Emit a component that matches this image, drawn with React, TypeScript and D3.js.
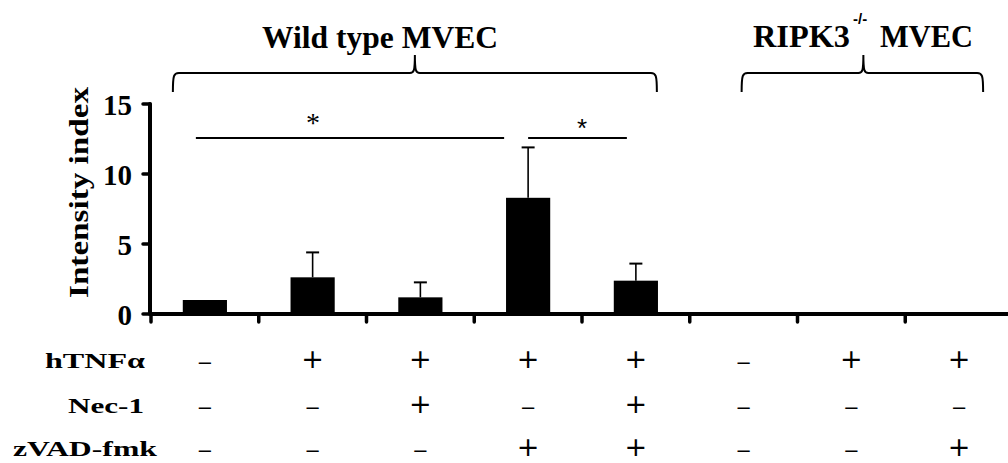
import React from "react";
import * as d3 from "d3";

const categories = ["WT-1", "WT-2", "WT-3", "WT-4", "WT-5", "KO-1", "KO-2", "KO-3"];
const means = [1.0, 2.62, 1.19, 8.3, 2.38, 0, 0, 0];
const errors = [0, 1.78, 1.07, 3.6, 1.22, 0, 0, 0];
const yTicks = [0, 5, 10, 15];
const rowLabels = ["hTNFα", "Nec-1", "zVAD-fmk"];
const hTNF = [false, true, true, true, true, false, true, true];
const nec1 = [false, false, true, false, true, false, false, false];
const zvad = [false, false, false, true, true, false, false, true];
const treatmentRows = [hTNF, nec1, zvad];
const groupLabels = ["Wild type MVEC", "RIPK3", "MVEC"];

const W = 1008;
const H = 463;
const serif = "'Liberation Serif', 'Times New Roman', serif";
const sans = "'Liberation Sans', Arial, sans-serif";
const dejavu = "'DejaVu Sans', sans-serif";

function bracePath(x0: number, xm: number, x1: number, yTop: number, yLine: number, yEnd: number) {
  return `M${x0},${yEnd} C${x0},${yLine + 2} ${x0 + 1},${yLine} ${x0 + 6},${yLine} L${xm - 5},${yLine} C${xm - 1},${yLine} ${xm},${yLine - 2} ${xm},${yTop} C${xm},${yLine - 2} ${xm + 1},${yLine} ${xm + 5},${yLine} L${x1 - 6},${yLine} C${x1 - 1},${yLine} ${x1},${yLine + 2} ${x1},${yEnd}`;
}

export default function App() {
  const x = d3.scaleBand<string>().domain(categories).range([151, 1013]).paddingInner(0.59).paddingOuter(0.295);
  const y = d3.scaleLinear().domain([0, 15]).range([314, 104]);
  const step = x.step();
  const bw = x.bandwidth();
  const cx = (i: number) => (x(categories[i]) as number) + bw / 2;
  const axisX = 150;
  const rowY = [360, 405, 448];
  const labelLen = [100, 76, 144];
  const labelX = [45, 68, 13];

  return (
    <div style={{ position: "fixed", left: 0, top: 0 }}>
      <svg width={W} height={H} style={{ display: "block", background: "#fff" }}>
        {/* group titles */}
        <text x={380} y={48} fontFamily={serif} fontWeight="bold" fontSize={32} textAnchor="middle" textLength={236} lengthAdjust="spacingAndGlyphs">
          {groupLabels[0]}
        </text>
        <text x={753} y={47} fontFamily={serif} fontWeight="bold" fontSize={31} textLength={97} lengthAdjust="spacingAndGlyphs">
          {groupLabels[1]}
        </text>
        <text x={853} y={24} fontFamily={sans} fontWeight="bold" fontSize={15}>
          -/-
        </text>
        <text x={880} y={47} fontFamily={serif} fontWeight="bold" fontSize={31} textLength={93} lengthAdjust="spacingAndGlyphs">
          {groupLabels[2]}
        </text>
        {/* braces */}
        <path d={bracePath(cx(0) - 32, (cx(0) - 32 + cx(4) + 21) / 2, cx(4) + 21, 55, 73, 92)} fill="none" stroke="#000" strokeWidth={2} />
        <path d={bracePath(cx(5) - 2, cx(6) + 12, cx(7) + 24, 55, 73, 92)} fill="none" stroke="#000" strokeWidth={2} />

        {/* bars */}
        {categories.map((c, i) => (
          <rect key={c} x={x(c)} y={y(means[i])} width={bw} height={y(0) - y(means[i])} fill="#000" />
        ))}
        {/* error bars */}
        {categories.map((c, i) =>
          errors[i] > 0 ? (
            <g key={"e" + c}>
              <line x1={cx(i)} x2={cx(i)} y1={y(means[i])} y2={y(means[i] + errors[i])} stroke="#000" strokeWidth={1.6} />
              <line x1={cx(i) - 6.5} x2={cx(i) + 6.5} y1={y(means[i] + errors[i])} y2={y(means[i] + errors[i])} stroke="#000" strokeWidth={2} />
            </g>
          ) : null
        )}

        {/* significance */}
        <line x1={cx(0) - 9} x2={cx(3) - 24} y1={138} y2={138} stroke="#000" strokeWidth={2} />
        <text x={313} y={132} fontFamily={serif} fontSize={28} textAnchor="middle">*</text>
        <line x1={cx(3)} x2={cx(4) - 9} y1={138} y2={138} stroke="#000" strokeWidth={2} />
        <text x={582} y={137} fontFamily={sans} fontSize={26} textAnchor="middle">*</text>

        {/* y axis */}
        <line x1={axisX} x2={axisX} y1={y(15)} y2={y(0)} stroke="#000" strokeWidth={4} strokeLinecap="round" />
        {yTicks.map((t) => (
          <g key={t}>
            <line x1={axisX - 7} x2={axisX} y1={y(t)} y2={y(t)} stroke="#000" strokeWidth={3.5} strokeLinecap="round" />
            <text x={132} y={y(t) + 11} fontFamily={serif} fontWeight="bold" fontSize={29} textAnchor="end">
              {t}
            </text>
          </g>
        ))}
        <text
          transform={`translate(88, ${(87 + 298) / 2}) rotate(-90)`}
          fontFamily={serif}
          fontWeight="bold"
          fontSize={28}
          textAnchor="middle"
          textLength={211}
          lengthAdjust="spacingAndGlyphs"
        >
          Intensity index
        </text>

        {/* x axis */}
        <line x1={axisX} x2={W + 5} y1={y(0)} y2={y(0)} stroke="#000" strokeWidth={4} />
        {d3.range(categories.length).map((i) => (
          <line key={"t" + i} x1={151 + i * step} x2={151 + i * step} y1={y(0)} y2={y(0) + 8} stroke="#000" strokeWidth={3.5} strokeLinecap="round" />
        ))}

        {/* treatment table */}
        {rowLabels.map((l, r) => (
          <text key={l} x={labelX[r]} y={rowY[r] + 8} fontFamily={serif} fontWeight="bold" fontSize={22} textLength={labelLen[r]} lengthAdjust="spacingAndGlyphs">
            {l}
          </text>
        ))}
        {treatmentRows.map((row, r) =>
          row.map((v, i) =>
            v ? (
              <text key={r + "-" + i} x={cx(i)} y={rowY[r] + 8.3} fontFamily={dejavu} fontSize={27} textAnchor="middle">
                +
              </text>
            ) : (
              <text key={r + "-" + i} x={cx(i)} y={rowY[r] + 9} fontFamily={sans} fontSize={22} textAnchor="middle">
                –
              </text>
            )
          )
        )}
      </svg>
    </div>
  );
}
